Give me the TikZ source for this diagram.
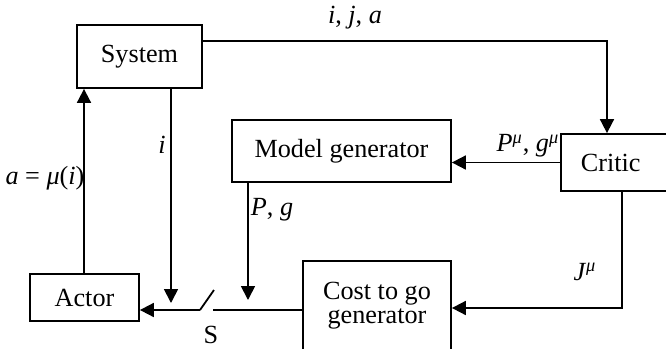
\documentclass[tikz,border=0pt]{standalone}
\usepackage{fontspec}
\setmainfont{Liberation Serif}
\usetikzlibrary{arrows.meta,positioning,calc}

\tikzset{
  box/.style={draw, line width=0.9pt, inner sep=0pt},
  arr/.style={line width=0.9pt, -{Triangle[length=7pt,width=7pt]}},
  wire/.style={line width=0.9pt}
}

\begin{document}
\begin{tikzpicture}[x=0.5pt,y=-0.5pt,font=\fontsize{13.1}{12}\selectfont]
    \clip (0,0) rectangle (666,349);
    % blocks
    \node[box, minimum width=62.5pt, minimum height=31.5pt] (system) at (139.5,56.5) {System};
    \node[box, minimum width=109.5pt, minimum height=31pt] (model) at (341.5,151) {Model generator};
    \node[box, anchor=west, text width=45pt, inner xsep=10pt, align=left, minimum height=28.5pt] (critic) at (560,162.5) {Critic};
    \node[box, minimum width=54.5pt, minimum height=23.5pt] (actor) at (84.5,297.5) {Actor};
    \node[box, minimum width=74pt, minimum height=44.5pt, align=center] (cost) at (377,305.5) {Cost to go\\generator};
    % turning points and switch
    \coordinate (ijaturn) at (607,41);
    \coordinate (jturn) at (622,308);
    \coordinate (swL) at (200,310);
    \coordinate (swR) at (213,310);
    \coordinate (swT) at (214,290);
    % connectors
    \draw[arr] (system.east |- ijaturn) -- (ijaturn) -- (ijaturn |- critic.north);
    \node (ija) at (355,18) {\textit{i}, \textit{j}, \textit{a}};
    \draw[arr] (critic.west) -- (critic.west -| model.east);
    \node (pgmu) at (528,146) {\textit{P}\textsuperscript{\textit{μ}}, \textit{g}\textsuperscript{\textit{μ}}};
    \draw[arr] (system.south -| 171,0) -- (171,303);
    \node (ilab) at (162,145) {\textit{i}};
    \draw[arr] (actor.north -| 84,0) -- (system.south -| 84,0);
    \node (alab) at (45,178) {\textit{a} = \textit{μ}(\textit{i})};
    \draw[arr] (model.south -| 248,0) -- (248,300);
    \node (pglab) at (272,210) {\textit{P}, \textit{g}};
    \draw[wire] (cost.west |- swR) -- (swR);
    \draw[wire] (swL) -- (swT);
    \draw[arr] (swL) -- (swL -| actor.east);
    \node (slab) at (211,335) {S};
    \draw[arr] (critic.south -| jturn) -- (jturn) -- (cost.east |- jturn);
    \node (jlab) at (585,272) {\textit{J}\textsuperscript{\textit{μ}}};
\end{tikzpicture}
\end{document}
